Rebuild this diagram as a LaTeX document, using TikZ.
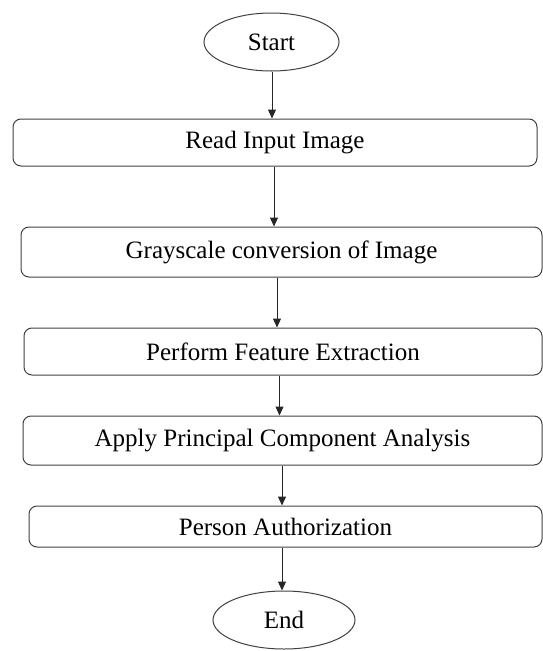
\documentclass[tikz,border=0pt]{standalone}
\usepackage{fontspec}
\setmainfont{Liberation Serif}
\usetikzlibrary{shapes.geometric,arrows.meta}
\tikzset{
  procbox/.style={draw=black!75, line width=1pt, rounded corners=8pt, inner sep=0pt, font=\fontsize{25}{28}\selectfont},
  termnode/.style={draw=black!75, line width=1pt, ellipse, inner sep=0pt, font=\fontsize{25}{28}\selectfont},
  arr/.style={draw=black!85, line width=1pt, -{Triangle[length=9pt,width=8pt]}}
}
\begin{document}
\begin{tikzpicture}[x=1pt,y=-1pt]
\useasboundingbox (0,0) rectangle (543,651);
\node[termnode, minimum width=135pt, minimum height=58pt] (start) at (271.5,42) {Start};
\node[procbox, minimum width=524pt, minimum height=47pt] (read) at (275,142.5) {Read Input Image};
\node[procbox, minimum width=521pt, minimum height=50pt] (gray) at (281.5,252) {Grayscale conversion of Image};
\node[procbox, minimum width=518pt, minimum height=47pt] (perf) at (283,351.5) {Perform Feature Extraction};
\node[procbox, minimum width=519pt, minimum height=49pt] (pca) at (282.5,440.5) {Apply Principal Component Analysis};
\node[procbox, minimum width=513pt, minimum height=41pt] (pers) at (285.5,526.5) {Person Authorization};
\node[termnode, minimum width=142pt, minimum height=58pt] (end) at (284,620) {End};
\coordinate (x1) at (272,0);
\coordinate (x2) at (274,0);
\coordinate (x3) at (277,0);
\coordinate (x4) at (279.5,0);
\coordinate (x5) at (282,0);
\draw[arr] (start.south -| x1) -- (read.north -| x1);
\draw[arr] (read.south -| x2) -- (gray.north -| x2);
\draw[arr] (gray.south -| x3) -- (perf.north -| x3);
\draw[arr] (perf.south -| x4) -- (pca.north -| x4);
\draw[arr] (pca.south -| x5) -- (pers.north -| x5);
\draw[arr] (pers.south -| x5) -- (end.north -| x5);
\end{tikzpicture}
\end{document}
